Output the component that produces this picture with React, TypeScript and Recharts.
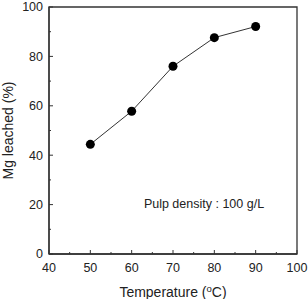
import React from 'react';
import {
    LineChart, Line, XAxis, YAxis, ReferenceArea, ReferenceDot, Label
} from 'recharts';

// temperature (°C) vs Mg leached (%)
const temperature = [50, 60, 70, 80, 90];
const mgLeached = [44.4, 57.8, 76.0, 87.6, 92.1];

const xTicks = [40, 45, 50, 55, 60, 65, 70, 75, 80, 85, 90, 95, 100];
const yTicks = [0, 10, 20, 30, 40, 50, 60, 70, 80, 90, 100];

const data = temperature.map((t, i) => ({ temp: t, mg: mgLeached[i] }));

const FONT = '"Liberation Sans", Arial, sans-serif';
const AXIS = '#333';

const XTick = (props: any) => {
    const { x, y, payload } = props;
    const major = payload.value % 10 === 0;
    return (
        <g>
            <line x1={x} x2={x} y1={y} y2={y - (major ? 4 : 2)} stroke={AXIS} strokeWidth={1} />
            {major && (
                <text x={x} y={y + 14} textAnchor="middle" dy="0.35em" fontSize={12.5} fill="#222" fontFamily={FONT}>
                    {payload.value}
                </text>
            )}
        </g>
    );
};

const YTick = (props: any) => {
    const { x, y, payload } = props;
    const major = payload.value % 20 === 0;
    return (
        <g>
            <line x1={x} x2={x + (major ? 4 : 2)} y1={y} y2={y} stroke={AXIS} strokeWidth={1} />
            {major && (
                <text x={x - 6} y={y} textAnchor="end" dy="0.35em" fontSize={12.5} fill="#222" fontFamily={FONT}>
                    {payload.value}
                </text>
            )}
        </g>
    );
};

const XLabel = (props: any) => {
    const { viewBox } = props;
    const cx = viewBox.x + viewBox.width / 2;
    return (
        <text x={cx} y={viewBox.y + 38} textAnchor="middle" dy="0.35em" fontSize={14} fill="#222" fontFamily={FONT}>
            Temperature (
            <tspan fontSize={9.5} dy="-5">o</tspan>
            <tspan dy="5">C)</tspan>
        </text>
    );
};

const YLabel = (props: any) => {
    const { viewBox } = props;
    const cx = viewBox.x + 8;
    const cy = viewBox.y + viewBox.height / 2;
    return (
        <text
            x={cx}
            y={cy}
            transform={`rotate(-90 ${cx} ${cy})`}
            textAnchor="middle"
            dy="0.35em"
            fontSize={14}
            fill="#222"
            fontFamily={FONT}
        >
            Mg leached (%)
        </text>
    );
};

export default function App() {
    return (
        <div style={{ position: 'absolute', left: 0, top: 0, background: '#fff' }}>
            <LineChart
                width={308}
                height={299}
                data={data}
                margin={{ top: 7, right: 11, left: 0, bottom: 0 }}
            >
                <XAxis
                    dataKey="temp"
                    type="number"
                    domain={[40, 100]}
                    ticks={xTicks}
                    interval={0}
                    height={45}
                    tickSize={0}
                    tickMargin={0}
                    tick={<XTick />}
                    axisLine={{ stroke: AXIS, strokeWidth: 1.3 }}
                    tickLine={false}
                >
                    <Label content={<XLabel />} />
                </XAxis>
                <YAxis
                    type="number"
                    domain={[0, 100]}
                    ticks={yTicks}
                    interval={0}
                    width={49}
                    tickSize={0}
                    tickMargin={0}
                    tick={<YTick />}
                    axisLine={{ stroke: AXIS, strokeWidth: 1.3 }}
                    tickLine={false}
                >
                    <Label content={<YLabel />} />
                </YAxis>
                <ReferenceArea x1={40} x2={100} y1={0} y2={100} fill="none" stroke={AXIS} strokeWidth={1.3} />
                <ReferenceDot x={77.5} y={20.5} r={0} stroke="none">
                    <Label
                        value="Pulp density : 100 g/L"
                        position="center"
                        style={{ fontSize: 12.5, fill: '#222', fontFamily: FONT }}
                    />
                </ReferenceDot>
                <Line
                    dataKey="mg"
                    type="linear"
                    stroke="#333"
                    strokeWidth={1}
                    dot={{ r: 4.5, fill: '#000', stroke: '#000', strokeWidth: 0 }}
                    isAnimationActive={false}
                />
            </LineChart>
        </div>
    );
}
